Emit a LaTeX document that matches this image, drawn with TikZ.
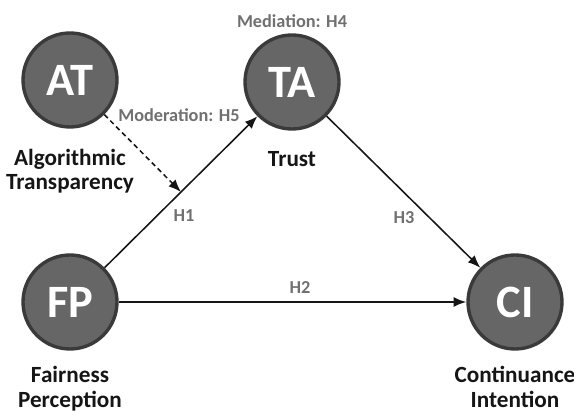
\documentclass[tikz,border=0pt]{standalone}
\usepackage{fontspec}
\setmainfont{Carlito}
\usetikzlibrary{arrows.meta,positioning,calc}
\definecolor{ConstrFill}{HTML}{666666}
\definecolor{ConstrEdge}{HTML}{3A3A3A}
\definecolor{HypGray}{HTML}{707070}
\definecolor{PathBlack}{HTML}{151515}

\begin{document}
\begin{tikzpicture}[
  construct/.style={
    circle, draw=ConstrEdge, line width=2.4pt, fill=ConstrFill,
    minimum size=2.35cm, inner sep=0pt, text=white,
    font=\bfseries\fontsize{33}{36}\selectfont
  },
  cname/.style={font=\bfseries\fontsize{16.5}{17.5}\selectfont, align=center,
    text=PathBlack, inner sep=0pt},
  hyp/.style={font=\bfseries\fontsize{13}{15}\selectfont, text=HypGray, inner sep=1pt},
  path/.style={-{Latex[length=9pt,width=7pt]}, line width=1.1pt, color=PathBlack},
  modpath/.style={path, dashed, dash pattern=on 3.5pt off 2.5pt}
]
\useasboundingbox (0,0) rectangle (14.35,10.4);

% Constructs
\node[construct] (AT) at (1.75,8.4)   {AT};
\node[construct] (TA) at (7.3,8.35)   {TA};
\node[construct] (FP) at (1.75,2.85)  {FP};
\node[construct] (CI) at (12.875,2.85) {CI};

% Construct names
\node[cname, below=0.5cm of AT] (ATname) {Algorithmic\\Transparency};
\node[cname, below=0.5cm of TA] (TAname) {Trust};
\node[cname, below=0.38cm of FP] (FPname) {Fairness\\Perception};
\node[cname, below=0.38cm of CI] (CIname) {Continuance\\Intention};

% Hypothesised paths
\coordinate (H1mid) at ($(FP)!0.5!(TA)$);
\draw[path] (FP) -- (TA);
\draw[path] (TA) -- (CI);
\draw[path] (FP) -- (CI);
\draw[modpath] (AT) -- (H1mid);

% Path labels
\node[hyp] (H1lbl) at (4.6,5.0)   {H1};
\node[hyp] (H2lbl) at (7.5,3.2)   {H2};
\node[hyp] (H3lbl) at (10.1,4.95) {H3};
\node[hyp] (H5lbl) at (4.475,7.52) {Moderation: H5};
\node[hyp, above=0.1cm of TA] (H4lbl) {Mediation: H4};

\end{tikzpicture}
\end{document}
